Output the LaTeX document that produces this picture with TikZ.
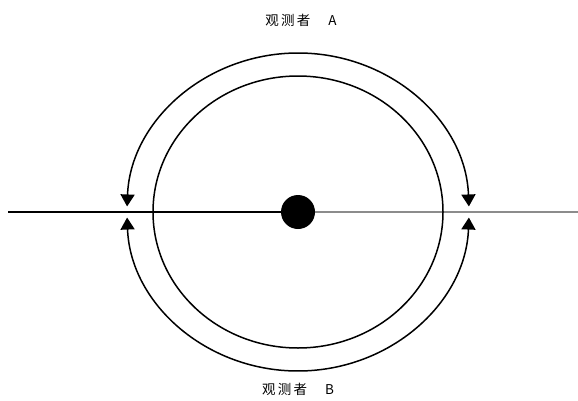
\documentclass[tikz,border=0pt]{standalone}
\usepackage{fontspec}
\newfontfamily\cjk{Noto Sans CJK SC}
\usetikzlibrary{arrows.meta}
\begin{document}
\begin{tikzpicture}[x=1pt,y=1pt,
  orbit/.style={line width=1.5pt},
  arc2/.style={line width=1.5pt,{Triangle[width=14pt,length=12pt]}-{Triangle[width=14pt,length=12pt]}},
  lbl/.style={font=\cjk\fontsize{13.5}{15}\selectfont,inner sep=0pt}]
\useasboundingbox (0,0) rectangle (578,400);
\coordinate (c) at (298,188);
\coordinate (lend) at (8,188);
\coordinate (rend) at (578,188);
% axis
\draw[line width=1.5pt] (lend) -- (c);
\draw[line width=1.5pt,black!45] (c) -- (rend);
% inner orbit
\draw[orbit] (c) ellipse [x radius=145,y radius=136];
% outer arcs with arrows
\draw[arc2] ([shift={(2:171 and 159)}]c) arc[start angle=2,end angle=178,x radius=171,y radius=159];
\draw[arc2] ([shift={(182:171 and 159)}]c) arc[start angle=182,end angle=358,x radius=171,y radius=159];
% central body
\node[circle,fill=black,minimum size=34pt,inner sep=0pt] (body) at (c) {};
% labels
\node[lbl] (obsA) at (301,380) {观\,测\,者\hspace{18pt}A};
\node[lbl] (obsB) at (298,11) {观\,测\,者\hspace{18pt}B};
\end{tikzpicture}
\end{document}
